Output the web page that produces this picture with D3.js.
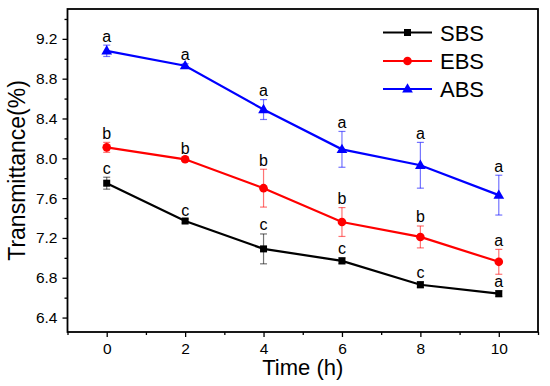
<!DOCTYPE html>
<html>
<head>
<meta charset="utf-8">
<script src="https://cdn.jsdelivr.net/npm/d3@7"></script>
<style>
  body { margin: 0; background: #fff; }
  svg { font-family: "Liberation Sans", Arial, sans-serif; }
</style>
</head>
<body>
<div id="chart"></div>
<script>
// data
const times = [0, 2, 4, 6, 8, 10];
const seriesNames = ['SBS', 'EBS', 'ABS'];
const seriesColors = ['#000000', '#ff0000', '#0000ff'];
const sbsValues = [7.75, 7.37, 7.09, 6.97, 6.73, 6.64];
const sbsErrors = [0.06, 0.02, 0.15, 0.03, 0.03, 0.03];
const sbsLetters = ['c', 'c', 'c', 'c', 'c', 'a'];
const ebsValues = [8.11, 7.99, 7.70, 7.36, 7.21, 6.96];
const ebsErrors = [0.05, 0.02, 0.19, 0.145, 0.11, 0.125];
const ebsLetters = ['b', 'b', 'b', 'b', 'b', 'a'];
const absValues = [9.08, 8.93, 8.49, 8.09, 7.93, 7.63];
const absErrors = [0.057, 0.02, 0.10, 0.18, 0.23, 0.2];
const absLetters = ['a', 'a', 'a', 'a', 'a', 'a'];
const yTicks = [6.4, 6.8, 7.2, 7.6, 8.0, 8.4, 8.8, 9.2];
const xTicks = [0, 2, 4, 6, 8, 10];

const series = [
    { name: seriesNames[0], color: seriesColors[0], values: sbsValues, errors: sbsErrors, letters: sbsLetters, marker: 'square' },
    { name: seriesNames[1], color: seriesColors[1], values: ebsValues, errors: ebsErrors, letters: ebsLetters, marker: 'circle' },
    { name: seriesNames[2], color: seriesColors[2], values: absValues, errors: absErrors, letters: absLetters, marker: 'triangle' }
];

const W = 550, H = 386;
const margin = { top: 9, right: 12, bottom: 54, left: 67.5 };

const svg = d3.select('#chart').append('svg')
    .attr('width', W)
    .attr('height', H);

const x = d3.scaleLinear().domain([-1, 11]).range([margin.left, W - margin.right]);
const y = d3.scaleLinear().domain([6.255, 9.5]).range([H - margin.bottom, margin.top]);

// axes (ticks outward)
svg.append('g')
    .attr('transform', `translate(0,${H - margin.bottom})`)
    .call(d3.axisBottom(x).tickValues(xTicks).tickFormat(d3.format('d')).tickSize(5).tickPadding(6));
svg.append('g')
    .attr('transform', `translate(0,${H - margin.bottom})`)
    .call(d3.axisBottom(x).tickValues([-1, 1, 3, 5, 7, 9, 11]).tickFormat('').tickSize(3));

svg.append('g')
    .attr('transform', `translate(${margin.left},0)`)
    .call(d3.axisLeft(y).tickValues(yTicks).tickFormat(d3.format('.1f')).tickSize(5).tickPadding(5));
svg.append('g')
    .attr('transform', `translate(${margin.left},0)`)
    .call(d3.axisLeft(y).tickValues(d3.range(6.6, 9.5, 0.4)).tickFormat('').tickSize(3));

svg.selectAll('.domain').remove();
svg.selectAll('.tick line').attr('stroke', '#000').attr('stroke-width', 1.3);
svg.selectAll('.tick text').attr('font-size', 15.5).attr('fill', '#000').attr('font-family', '"Liberation Sans", Arial, sans-serif');

// frame
svg.append('rect')
    .attr('x', margin.left)
    .attr('y', margin.top)
    .attr('width', W - margin.right - margin.left)
    .attr('height', H - margin.bottom - margin.top)
    .attr('fill', 'none')
    .attr('stroke', '#000')
    .attr('stroke-width', 1.8);

// axis titles
svg.append('text')
    .attr('x', (margin.left + W - margin.right) / 2)
    .attr('y', 375)
    .attr('text-anchor', 'middle')
    .attr('font-size', 22)
    .text('Time (h)');

svg.append('text')
    .attr('transform', `translate(25,${(margin.top + H - margin.bottom) / 2}) rotate(-90)`)
    .attr('text-anchor', 'middle')
    .attr('font-size', 23)
    .text('Transmittance(%)');

const line = d3.line()
    .x((d, i) => x(times[i]))
    .y(d => y(d));

function drawMarker(g, type, cx, cy, color) {
    if (type === 'square') {
        g.append('rect').attr('x', cx - 3.5).attr('y', cy - 3.5).attr('width', 7).attr('height', 7).attr('fill', color);
    } else if (type === 'circle') {
        g.append('circle').attr('cx', cx).attr('cy', cy).attr('r', 4.3).attr('fill', color);
    } else {
        const s = d3.symbol().type(d3.symbolTriangle).size(50);
        g.append('path').attr('d', s()).attr('transform', `translate(${cx},${cy + 0.5})`).attr('fill', color);
    }
}

series.forEach(s => {
    const g = svg.append('g');

    // error bars
    s.values.forEach((v, i) => {
        const cx = x(times[i]);
        const y1 = y(v + s.errors[i]), y2 = y(v - s.errors[i]);
        const eb = g.append('g').attr('stroke', s.color).attr('stroke-opacity', 0.55).attr('stroke-width', 1.2);
        eb.append('line').attr('x1', cx).attr('x2', cx).attr('y1', y1).attr('y2', y2);
        eb.append('line').attr('x1', cx - 3.5).attr('x2', cx + 3.5).attr('y1', y1).attr('y2', y1);
        eb.append('line').attr('x1', cx - 3.5).attr('x2', cx + 3.5).attr('y1', y2).attr('y2', y2);
    });

    g.append('path')
        .datum(s.values)
        .attr('d', line)
        .attr('fill', 'none')
        .attr('stroke', s.color)
        .attr('stroke-width', 2.2);

    s.values.forEach((v, i) => {
        drawMarker(g, s.marker, x(times[i]), y(v), s.color);
        // significance letters
        g.append('text')
            .attr('x', x(times[i]))
            .attr('y', y(v + s.errors[i]) - 3.5)
            .attr('text-anchor', 'middle')
            .attr('font-size', 16)
            .attr('fill', '#000')
            .text(s.letters[i]);
    });
});

// legend
const legend = svg.append('g');
const legendY = [32.5, 61, 89];
series.forEach((s, i) => {
    legend.append('line')
        .attr('x1', 383).attr('x2', 432)
        .attr('y1', legendY[i]).attr('y2', legendY[i])
        .attr('stroke', s.color).attr('stroke-width', 2.2);
    drawMarker(legend, s.marker, 407.5, legendY[i], s.color);
    legend.append('text')
        .attr('x', 440)
        .attr('y', legendY[i] + 8)
        .attr('font-size', 22)
        .text(s.name);
});
</script>
</body>
</html>
